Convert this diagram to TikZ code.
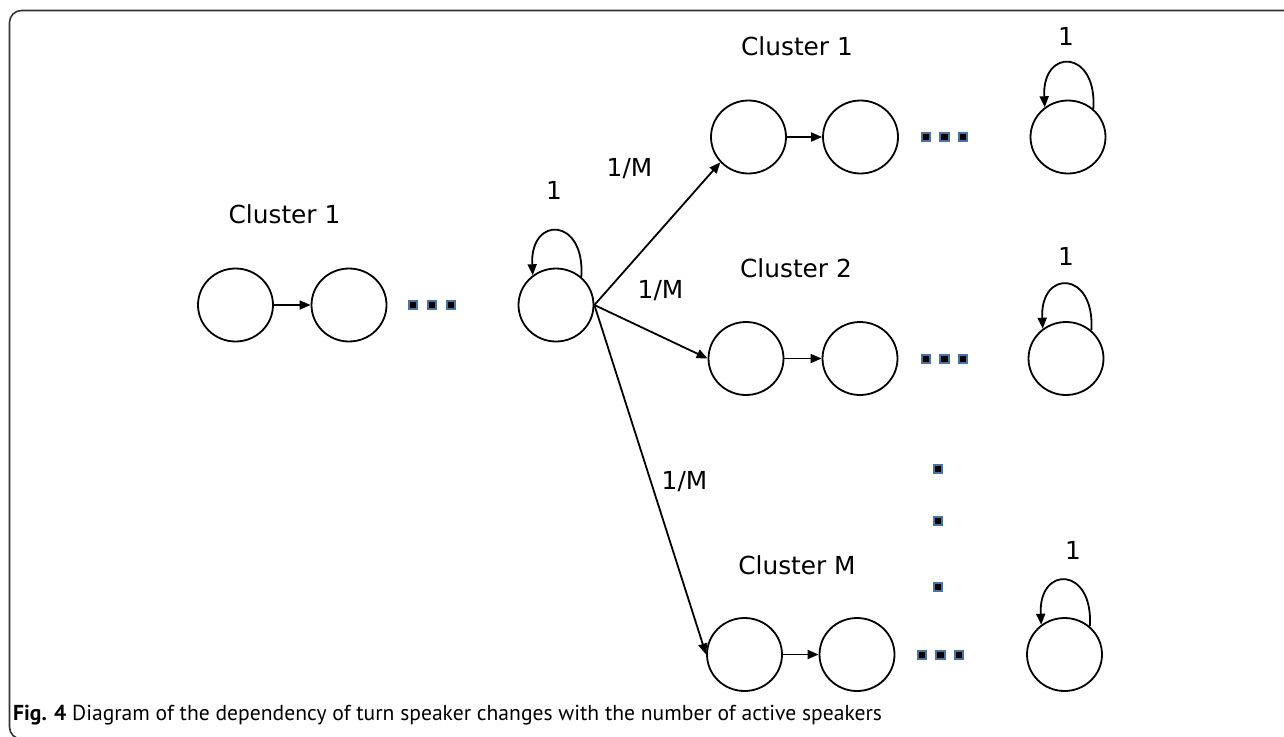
\documentclass[tikz,border=0pt]{standalone}
\usepackage{fontspec}
\setmainfont{DejaVu Sans}
\newfontfamily\capfont{PT Sans}
\usetikzlibrary{shapes.geometric,arrows.meta}
\definecolor{dotblue}{HTML}{4A73A0}
\definecolor{framegray}{HTML}{333333}
\tikzset{
  state/.style={ellipse,draw,line width=1.8pt,minimum width=75pt,minimum height=73pt,inner sep=0pt},
  arr/.style={line width=1.8pt,-{Triangle[length=11pt,width=9pt]}},
  dotsq/.style={rectangle,fill=black,draw=dotblue,line width=1.7pt,minimum size=8.5pt,inner sep=0pt},
  lab/.style={anchor=base,inner sep=0pt,font=\fontsize{24.8}{28}\selectfont},
}
\begin{document}
\begin{tikzpicture}[x=1pt,y=-1pt]
\useasboundingbox (0,0) rectangle (1284,736);
% frame
\draw[framegray,line width=1.6pt,rounded corners=12pt] (1290,10.5) -- (9.5,10.5) -- (9.5,739) -- (60,739);
% left chain
\node[state] (A1) at (235.5,305) {};
\node[state] (A2) at (349,305) {};
\node[dotsq] (a1) at (413,305) {};
\node[dotsq] (a2) at (432,305) {};
\node[dotsq] (a3) at (451,305) {};
\node[state] (A3) at (556,305) {};
\node[lab] (LA) at (284.5,223) {Cluster 1};
\node[lab] (LA3) at (554,199) {1};
\draw[arr] (A1) -- (A2);
\draw[arr] (A3.48) .. controls +(4,-60) and +(-3,-60) .. (A3.128);
% top row
\node[state] (B1) at (748.5,137) {};
\node[state] (B2) at (860.5,137) {};
\node[dotsq] (b1) at (926,137) {};
\node[dotsq] (b2) at (944.5,137) {};
\node[dotsq] (b3) at (963,137) {};
\node[state] (B4) at (1068,137) {};
\node[lab] (LB) at (797,55) {Cluster 1};
\node[lab] (LB4) at (1066,45) {1};
\draw[arr] (B1) -- (B2);
\draw[arr] (B4.48) .. controls +(4,-60) and +(-3,-60) .. (B4.128);
% middle row
\node[state] (C1) at (746,358.5) {};
\node[state] (C2) at (860,358.5) {};
\node[dotsq] (c1) at (926,359) {};
\node[dotsq] (c2) at (944.5,359) {};
\node[dotsq] (c3) at (963,359) {};
\node[state] (C4) at (1066,358.5) {};
\node[lab] (LC) at (796,277) {Cluster 2};
\node[lab] (LC4) at (1066,265) {1};
\draw[arr] (C1) -- (C2);
\draw[arr] (C4.48) .. controls +(4,-60) and +(-3,-60) .. (C4.128);
% bottom row
\node[state] (D1) at (744.5,654.5) {};
\node[state] (D2) at (857,654.5) {};
\node[dotsq] (d1) at (922,655) {};
\node[dotsq] (d2) at (940.5,655) {};
\node[dotsq] (d3) at (959,655) {};
\node[state] (D4) at (1064.5,654.5) {};
\node[lab] (LD) at (797,574) {Cluster M};
\node[lab] (LD4) at (1073,559) {1};
\draw[arr] (D1) -- (D2);
\draw[arr] (D4.48) .. controls +(4,-60) and +(-3,-60) .. (D4.128);
% vertical dots
\node[dotsq] (v1) at (938,469) {};
\node[dotsq] (v2) at (938,521) {};
\node[dotsq] (v3) at (938,587) {};
% branches
\draw[arr] (A3.east) -- (B1.222);
\draw[arr] (A3.east) -- (C1.west);
\draw[arr] (A3.east) -- (D1.west);
\node[lab] (M1) at (629.5,176) {1/M};
\node[lab] (M2) at (660.5,298) {1/M};
\node[lab] (M3) at (684.5,489) {1/M};
% caption
\node[anchor=base west,inner sep=0pt,font=\capfont\fontsize{21.6}{24}\selectfont,text=black] (cap) at (13,720) {\textbf{Fig. 4} Diagram of the dependency of turn speaker changes with the number of active speakers};
\end{tikzpicture}
\end{document}
